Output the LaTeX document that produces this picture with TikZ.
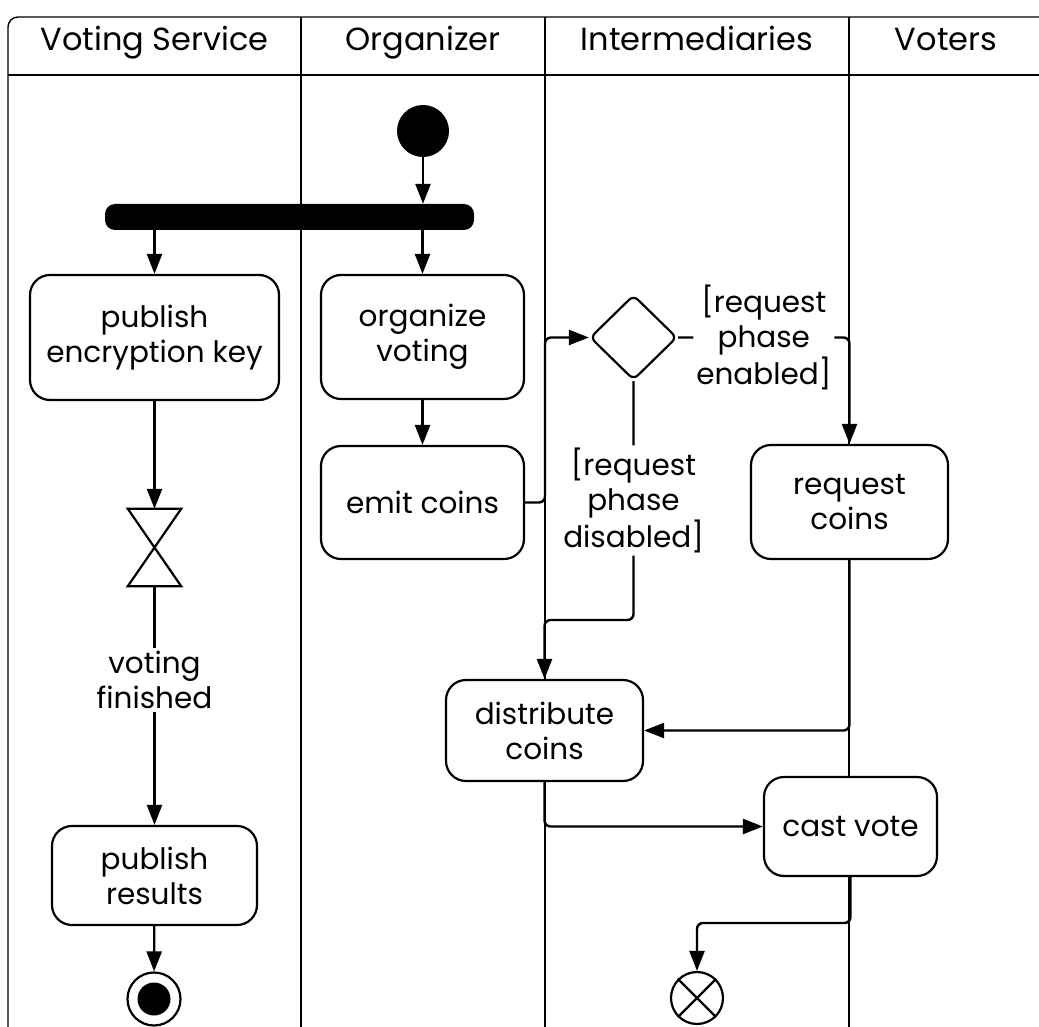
\documentclass[tikz,border=0pt]{standalone}
\usepackage{fontspec}
\setmainfont{Poppins}
\usetikzlibrary{arrows.meta,shapes.geometric,calc}
\newcommand\bodyfs{\fontsize{29.5}{35}\selectfont}
\newcommand\headfs{\fontsize{32}{36}\selectfont}
\begin{document}
\begin{tikzpicture}[x=1pt,y=-1pt,
  lane/.style={line width=1.4pt},
  box/.style={draw,fill=white,line width=2.2pt,rounded corners=20pt,align=center,font=\bodyfs,inner sep=0pt},
  flow/.style={line width=2.4pt,-{Triangle[length=20pt,width=15pt]}},
  plainline/.style={line width=2.4pt},
  lbl/.style={align=center,font=\bodyfs,fill=white,inner sep=3pt},
  hdr/.style={font=\headfs,anchor=base}]
\useasboundingbox (0,0) rectangle (1039,1027);
% swimlanes
\draw[lane,rounded corners=10pt] (8,1027) -- (8,17) -- (1039,17);
\draw[lane] (8,75) -- (1039,75);
\foreach \x in {301,545,849} \draw[lane] (\x,17) -- (\x,1027);
\node[hdr] (h1) at (154.5,51) {Voting Service};
\node[hdr] (h2) at (423,51) {Organizer};
\node[hdr] (h3) at (697,51) {Intermediaries};
\node[hdr] (h4) at (946,51) {Voters};
% nodes
\node[circle,fill,minimum size=52pt,inner sep=0] (init) at (423,131) {};
\node[fill,rounded corners=10pt,minimum width=369pt,minimum height=26pt,inner sep=0] (fork) at (289.5,217) {};
\node[box,minimum width=249pt,minimum height=125pt] (pubkey) at (154.5,337.5) {publish\\encryption key};
\node[box,minimum width=203pt,minimum height=124pt] (org) at (422.5,337) {organize\\voting};
\node[box,minimum width=203pt,minimum height=113pt] (emit) at (422.5,502.5) {emit coins};
\node[draw,fill=white,diamond,line width=2.2pt,rounded corners=6pt,minimum width=87pt,minimum height=85pt,inner sep=0] (dec) at (633.5,337.5) {};
\node[box,minimum width=197pt,minimum height=114pt] (reqc) at (849.5,502) {request\\coins};
\node[box,minimum width=197pt,minimum height=101pt] (dist) at (544.5,730.5) {distribute\\coins};
\node[box,minimum width=173pt,minimum height=99pt] (cast) at (850.5,826.5) {cast vote};
\node[inner sep=0,minimum width=53pt,minimum height=77pt] (hg) at (154.5,547.5) {};
\draw[line width=2.2pt,line join=miter] (hg.north west) -- (hg.north east) -- (hg.south west) -- (hg.south east) -- cycle;
\node[lbl] (vf) at (154.5,680) {voting\\finished};
\node[box,minimum width=205pt,minimum height=99pt] (pubres) at (154.5,875.5) {publish\\results};
\node[circle,draw,line width=2.2pt,minimum size=53pt,inner sep=0] (fin) at (154,999) {};
\fill (fin.center) circle (16.5pt);
\node[circle,draw,line width=2.2pt,minimum size=52pt,inner sep=0] (ff) at (697,998) {};
\draw[line width=2.2pt] (ff.north west) -- (ff.south east) (ff.north east) -- (ff.south west);
% connectors
\draw[flow] (init) -- (init |- fork.north);
\draw[flow] (pubkey |- fork.south) -- (pubkey.north);
\draw[flow] (org |- fork.south) -- (org.north);
\draw[flow] (org) -- (emit);
\coordinate (c1) at (545,0);
\draw[flow,rounded corners=6pt] (emit.east) -- (emit.east -| c1) -- (dec.west -| c1) -- (dec.west);
\draw[flow,rounded corners=6pt] (dec.east) -| node[lbl,pos=0.25]{[request\\phase\\enabled]} (reqc.north);
\coordinate (c2) at (544.5,620);
\draw[flow,rounded corners=6pt] (dec.south) |- node[lbl,pos=0.25]{[request\\phase\\disabled]} (c2) -- (dist.north);
\draw[flow,rounded corners=6pt] (reqc.south) |- (dist.east);
\draw[flow,rounded corners=6pt] (dist.south) |- (cast.west);
\coordinate (c3) at (697,923);
\draw[flow,rounded corners=6pt] (cast.south) |- (c3) -- (ff.north);
\draw[flow] (pubkey) -- (hg.north);
\draw[plainline] (hg.south) -- (vf.north);
\draw[flow] (vf.south) -- (pubres.north);
\draw[flow] (pubres) -- (fin);
\end{tikzpicture}
\end{document}
